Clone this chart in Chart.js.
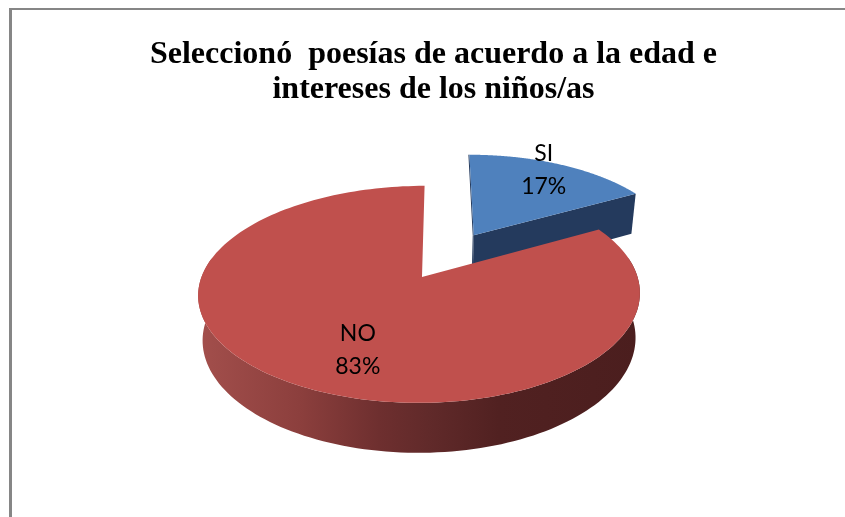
<!DOCTYPE html>
<html>
<head>
<meta charset="utf-8">
<script src="https://cdn.jsdelivr.net/npm/chart.js@4"></script>
<style>
  html, body { margin: 0; padding: 0; background: #fff; overflow: hidden; }
  #frame { position: absolute; left: 9px; top: 8px; right: 0; bottom: 0; border-left: 3px solid #868686; border-top: 2px solid #868686; }
  canvas { position: absolute; left: 0; top: 0; }
</style>
</head>
<body>
<div id="frame"></div>
<canvas id="chart" width="845" height="517"></canvas>
<script>
const categories = ['SI', 'NO'];
const values = [17, 83];
const titleLines = ['Seleccionó  poesías de acuerdo a la edad e', 'intereses de los niños/as'];

const TOP_COLORS = ['#4f81bd', '#c0504d'];
const CUT_COLOR = '#243a5d';

// vista 3D: perspectiva del plato
const VIEW_DX = -11.5;
const VIEW_RX = 218;
const VIEW_RY = 105.7;
const VIEW_K = 0.161;
const VIEW_SHEAR = -3;
const VIEW_BOW = -2.5;
const DEPTH = 44;
const LOWER_SCALE = 0.98;
const WALL_MIN_SIN = -0.2;
const LABEL_RADIUS = [0.92, 0.72];
const LABEL_NUDGE = [-11, 27];
const LABEL_GAP = 33;

function project(arc, u, v, lower) {
  const f = 1 / (1 - VIEW_K * v);
  const s = lower ? LOWER_SCALE : 1;
  return {
    x: arc.x + VIEW_DX + s * (VIEW_RX * u + VIEW_SHEAR * v + VIEW_BOW * u * u) * f,
    y: arc.y + s * VIEW_RY * v * f + (lower ? DEPTH * f : 0),
  };
}

// centro del sector en coordenadas del plato (incluye la separacion)
function sliceOrigin(arc) {
  const mid = (arc.startAngle + arc.endAngle) / 2;
  const ex = (arc.options.offset || 0) / arc.outerRadius;
  return { u: ex * Math.cos(mid), v: ex * Math.sin(mid), mid };
}

function rimAngles(arc) {
  const out = [];
  const steps = 180;
  for (let i = 0; i <= steps; i++) {
    out.push(arc.startAngle + (arc.endAngle - arc.startAngle) * i / steps);
  }
  return out;
}

function rimPoints(arc, angles, lower) {
  const o = sliceOrigin(arc);
  return angles.map((a) => project(arc, o.u + Math.cos(a), o.v + Math.sin(a), lower));
}

function fillPoly(ctx, pts, color) {
  ctx.beginPath();
  pts.forEach((p, i) => (i ? ctx.lineTo(p.x, p.y) : ctx.moveTo(p.x, p.y)));
  ctx.closePath();
  ctx.fillStyle = color;
  ctx.fill();
}

function wallGradient(ctx) {
  const g = ctx.createLinearGradient(198, 0, 640, 0);
  g.addColorStop(0, '#a34f4c');
  g.addColorStop(0.23, '#8c3f3d');
  g.addColorStop(0.41, '#6e2f2f');
  g.addColorStop(0.52, '#612a2a');
  g.addColorStop(0.68, '#512121');
  g.addColorStop(1, '#4b1e1e');
  return g;
}

const pie3d = {
  id: 'pie3d',
  beforeDatasetDraw(chart) {
    const { ctx } = chart;
    chart.getDatasetMeta(0).data.forEach((arc, i) => {
      const o = sliceOrigin(arc);
      const angles = rimAngles(arc);
      const top = rimPoints(arc, angles, false);
      const low = rimPoints(arc, angles, true);
      const apexTop = project(arc, o.u, o.v, false);
      const apexLow = project(arc, o.u, o.v, true);
      // solo el sector separado muestra su cara de corte
      if (arc.options.offset) {
        fillPoly(ctx, [apexTop, top[top.length - 1], low[low.length - 1], apexLow], CUT_COLOR);
        ctx.beginPath();
        ctx.moveTo(top[0].x - 0.5, top[0].y);
        ctx.lineTo(apexTop.x - 0.5, apexTop.y);
        ctx.lineTo(apexLow.x - 0.5, apexLow.y);
        ctx.strokeStyle = CUT_COLOR;
        ctx.lineWidth = 1;
        ctx.stroke();
      }
      // pared exterior: solo la parte que mira al frente
      const front = angles.filter((a) => Math.sin(a) > WALL_MIN_SIN);
      if (front.length) {
        const wallTop = rimPoints(arc, front, false);
        const wallLow = rimPoints(arc, front, true);
        fillPoly(ctx, wallTop.concat(wallLow.reverse()), wallGradient(ctx));
      }
      // cara superior
      fillPoly(ctx, [apexTop].concat(top), TOP_COLORS[i]);
    });
    return false;
  },
  afterDatasetsDraw(chart) {
    const { ctx } = chart;
    const total = values.reduce((a, b) => a + b, 0);
    ctx.save();
    ctx.fillStyle = '#000';
    ctx.font = "23px Lato, sans-serif";
    ctx.textAlign = 'center';
    ctx.textBaseline = 'middle';
    chart.getDatasetMeta(0).data.forEach((arc, i) => {
      const o = sliceOrigin(arc);
      const t = LABEL_RADIUS[i];
      const p = project(arc, o.u + t * Math.cos(o.mid), o.v + t * Math.sin(o.mid), false);
      ctx.fillText(categories[i], p.x + LABEL_NUDGE[i], p.y - LABEL_GAP / 2);
      ctx.fillText(Math.round(values[i] / total * 100) + '%', p.x + LABEL_NUDGE[i], p.y + LABEL_GAP / 2);
    });
    ctx.restore();
  },
};

new Chart(document.getElementById('chart'), {
  type: 'pie',
  data: {
    labels: categories,
    datasets: [{
      data: values,
      backgroundColor: TOP_COLORS,
      borderWidth: 0,
      offset: [62, 0],
    }],
  },
  options: {
    responsive: false,
    animation: false,
    layout: { padding: { left: 22, bottom: 82 } },
    plugins: {
      legend: { display: false },
      tooltip: { enabled: false },
      title: {
        display: true,
        text: titleLines,
        color: '#000',
        font: { family: "'Liberation Serif', serif", size: 32, weight: 'bold', lineHeight: 1.09 },
        padding: { top: 37, bottom: 12 },
      },
    },
  },
  plugins: [pie3d],
});
</script>
</body>
</html>
